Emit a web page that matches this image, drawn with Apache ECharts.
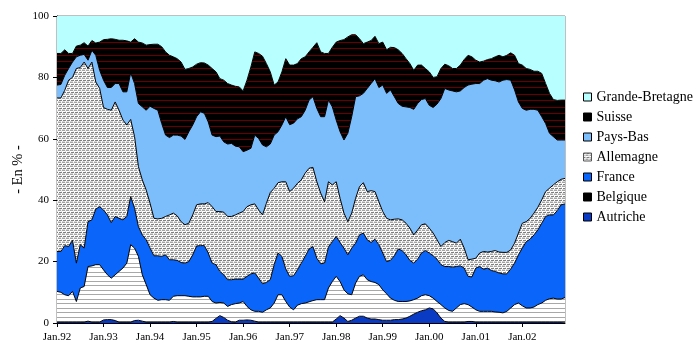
<!DOCTYPE html>
<html>
<head>
<meta charset="utf-8">
<script src="https://cdn.jsdelivr.net/npm/echarts@6/dist/echarts.min.js"></script>
<style>
  html, body { margin: 0; padding: 0; background: #fff; }
  #chart { width: 698px; height: 343px; }
</style>
</head>
<body>
<div id="chart"></div>
<script>
// Monthly shares (in %) by country, Jan.92 to Dec.02, one row per year
const years = ['92', '93', '94', '95', '96', '97', '98', '99', '00', '01', '02'];
const monthNames = ['Jan', 'Fév', 'Mar', 'Avr', 'Mai', 'Juin', 'Juil', 'Août', 'Sep', 'Oct', 'Nov', 'Déc'];
const tickLabels = ['Jan.92', 'Jan.93', 'Jan.94', 'Jan.95', 'Jan.96', 'Jan.97', 'Jan.98', 'Jan.99', 'Jan.00', 'Jan.01', 'Jan.02'];
const yTicks = [0, 20, 40, 60, 80, 100];

const autriche = [
  0.3,0.3,0.3,0.3,0.3,0.3,0.3,0.3,0.6,0.3,0.3,0.3,
  1.0,1.1,1.1,0.8,0.3,0.3,0.3,0.3,0.8,0.9,0.6,0.3,
  0.3,0.3,0.3,0.3,0.3,0.3,0.5,0.3,0.3,0.3,0.3,0.3,
  0.3,0.3,0.3,0.3,0.5,1.5,2.4,1.8,0.9,0.4,0.3,0.9,
  0.9,1.0,0.9,0.6,0.3,0.3,0.3,0.3,0.3,0.3,0.3,0.3,
  0.3,0.3,0.3,0.3,0.3,0.3,0.3,0.3,0.3,0.3,0.3,0.3,
  1.3,2.4,1.6,0.5,0.9,1.6,2.2,2.2,1.6,1.3,1.3,1.1,
  0.9,0.9,0.9,1.1,1.1,1.3,1.6,2.2,2.9,3.5,4.0,4.3,
  4.9,4.6,3.3,1.6,0.5,0.3,0.3,0.3,0.3,0.3,0.5,0.5,
  0.3,0.3,0.3,0.3,0.3,0.3,0.3,0.3,0.3,0.3,0.3,0.3,
  0.3,0.3,0.3,0.3,0.3,0.3,0.3,0.3,0.3,0.3,0.3,0.3
];
const belgique = [
  10.0,9.7,8.9,8.6,10.0,6.7,11.1,11.6,17.8,18.3,18.7,18.7,
  16.3,14.6,13.5,14.9,16.5,17.6,19.2,25.2,23.6,20.8,15.1,12.2,
  8.9,7.8,7.1,7.3,7.3,7.1,8.2,8.6,8.6,8.6,8.4,8.2,
  8.2,8.2,8.4,8.4,6.5,5.0,4.3,4.7,4.5,5.6,6.0,5.6,
  6.1,4.4,3.4,3.2,3.5,3.2,4.0,4.6,6.2,8.9,8.9,6.7,
  4.9,4.0,5.5,6.0,6.2,6.6,7.0,7.3,7.3,7.3,11.1,13.2,
  13.9,11.1,9.2,9.0,8.3,11.4,13.0,13.5,12.5,12.2,11.9,11.4,
  9.9,8.6,7.2,6.3,5.9,5.7,5.4,5.0,4.7,4.6,4.9,4.9,
  4.0,3.5,3.7,4.4,4.4,3.8,3.5,4.6,5.7,6.0,5.5,4.7,
  4.0,3.5,3.5,3.5,3.5,3.3,3.2,3.0,3.5,4.6,5.7,6.2,
  5.3,4.6,4.6,4.9,5.7,6.2,7.1,7.6,7.8,7.5,7.5,8.0
];
const france = [
  13.0,13.3,16.0,16.0,16.6,12.5,14.1,12.5,14.6,15.0,18.1,18.9,
  19.5,19.5,18.1,19.0,17.3,15.7,15.2,15.7,13.0,9.7,13.0,14.6,
  15.2,13.8,14.5,14.1,14.6,13.2,11.9,11.5,10.8,10.6,11.3,13.7,
  16.6,16.7,16.5,14.1,12.5,12.5,10.1,9.2,8.7,8.1,8.0,7.8,
  7.3,9.8,11.7,12.5,10.8,9.3,8.9,9.2,12.5,13.6,12.5,10.6,
  10.0,11.1,11.5,13.2,15.2,17.2,17.6,13.5,11.7,11.9,13.3,13.0,
  13.0,12.7,13.6,12.7,15.2,13.0,13.5,13.6,13.0,12.7,14.1,13.0,
  12.0,10.5,12.3,14.5,17.1,16.6,15.2,13.2,11.9,12.7,13.9,14.4,
  13.9,13.8,13.8,13.0,13.5,14.3,14.4,13.5,12.6,11.6,9.2,9.8,
  13.6,14.6,13.7,14.1,13.3,13.2,12.8,12.7,12.2,12.7,13.5,15.7,
  18.8,21.6,22.4,23.5,24.3,26.0,27.3,27.3,27.1,28.8,30.7,30.5
];
const allemagne = [
  50.0,50.0,50.6,54.2,53.1,63.4,57.7,60.6,49.9,51.4,41.4,38.5,
  33.4,34.4,36.6,37.3,35.2,32.5,29.8,25.1,23.3,19.5,17.9,16.2,
  14.6,12.2,12.0,12.4,12.5,14.6,15.2,14.5,13.3,12.5,12.5,13.0,
  13.4,13.6,13.6,16.4,18.4,17.3,19.5,20.4,20.6,20.6,20.9,21.5,
  22.0,22.7,22.5,22.5,22.2,22.4,25.8,28.4,24.9,22.9,24.3,28.4,
  27.6,28.5,28.2,27.1,27.1,26.3,25.8,24.9,23.0,20.0,21.3,18.5,
  17.8,14.4,11.4,10.8,11.4,14.6,15.7,16.4,15.7,16.9,15.5,14.0,
  13.5,14.1,13.2,11.9,9.8,10.0,10.3,10.5,9.2,9.5,9.2,8.7,
  8.1,7.4,6.3,5.9,7.8,8.5,8.3,7.6,8.7,6.5,5.4,5.8,
  3.2,4.4,5.8,5.2,6.2,6.8,6.8,7.0,7.0,6.2,6.5,7.1,
  8.1,6.5,6.8,7.1,7.4,7.6,8.1,8.7,9.8,9.4,8.3,8.3
];
const paysBas = [
  4.2,4.4,4.9,3.8,5.0,3.8,4.0,2.5,2.7,3.8,8.7,5.9,
  8.9,7.1,7.4,6.0,8.7,9.2,10.8,15.2,17.3,20.6,23.8,26.0,
  31.6,35.8,35.4,30.9,26.5,25.2,25.4,26.3,27.9,27.8,29.8,29.3,
  28.7,30.0,29.5,26.3,23.3,24.4,24.6,22.9,23.6,23.8,22.4,21.6,
  19.5,18.4,18.4,22.4,23.3,22.8,18.4,15.8,17.3,16.6,18.5,21.2,
  21.8,21.2,21.0,20.6,20.5,22.2,23.0,23.9,24.9,27.7,26.6,25.4,
  20.1,21.7,23.8,28.8,31.4,33.1,29.6,29.1,33.6,34.9,36.8,37.2,
  41.2,40.7,42.3,39.9,37.6,37.0,37.9,39.3,40.9,41.2,40.8,40.8,
  40.0,40.9,44.2,48.2,50.2,49.0,49.1,49.3,48.3,52.3,56.9,57.0,
  56.9,55.2,55.8,56.5,55.8,55.3,55.4,56.1,56.3,55.3,49.9,42.7,
  37.4,36.3,35.5,33.8,31.6,27.1,22.2,17.9,15.7,13.6,12.8,12.5
];
const suisse = [
  10.3,10.1,8.3,4.9,2.8,3.5,3.3,3.8,4.6,3.2,4.0,9.2,
  13.2,15.7,15.9,14.4,14.1,16.8,16.6,10.0,14.6,20.0,20.8,21.2,
  20.1,20.9,21.5,25.0,27.1,26.8,25.5,24.9,24.1,22.8,20.6,18.9,
  17.1,16.0,16.4,18.5,21.7,21.1,18.7,20.1,19.7,19.0,19.5,19.5,
  19.8,22.8,26.5,27.1,27.7,28.9,27.1,23.5,16.3,16.2,17.3,18.9,
  19.4,18.9,18.0,18.9,17.4,15.7,16.1,21.4,21.1,20.6,15.2,19.4,
  25.4,29.7,32.7,31.4,26.7,20.2,18.6,16.2,15.1,14.0,13.8,14.3,
  14.0,14.2,13.9,16.0,17.5,17.2,15.7,14.3,12.7,12.5,11.2,9.8,
  10.9,9.8,8.9,9.8,7.9,7.9,7.3,7.6,8.4,9.1,9.7,8.9,
  7.6,7.0,6.2,6.2,7.0,7.8,8.7,7.6,7.9,8.9,11.3,12.5,
  14.1,13.6,13.0,12.4,12.7,14.1,13.0,13.0,12.1,12.9,13.0,13.0
];
const grandeBretagne = [
  12.2,12.2,11.0,12.2,12.2,9.8,9.5,8.7,9.8,8.0,8.8,8.5,
  7.7,7.6,7.4,7.6,7.9,7.9,8.1,8.5,7.4,8.5,8.8,9.5,
  9.3,9.2,9.2,10.0,11.7,12.8,13.3,13.9,15.0,17.4,17.1,16.6,
  15.7,15.2,15.3,16.0,17.1,18.2,20.4,20.9,22.0,22.5,22.9,23.1,
  24.4,20.9,16.6,11.7,12.2,13.1,15.5,18.2,22.5,21.5,18.2,13.9,
  16.0,16.0,15.5,13.9,13.3,11.7,10.2,8.7,11.7,12.2,12.2,10.2,
  8.5,8.0,7.7,6.8,6.1,6.1,7.4,9.0,8.5,8.0,6.6,9.0,
  8.5,11.0,10.2,10.3,11.0,12.2,13.9,15.5,17.7,16.0,16.0,17.1,
  18.2,20.0,19.8,17.1,15.7,16.2,17.1,17.1,16.0,14.2,12.8,13.3,
  14.4,15.0,14.7,14.2,13.9,13.3,12.8,13.3,12.8,12.0,12.8,15.5,
  16.0,17.1,17.4,18.0,18.0,18.7,22.0,25.2,27.2,27.5,27.4,27.4
];

// Month labels: "Jan.92", "Fév.92", ...
const months = [];
years.forEach(y => monthNames.forEach(m => months.push(m + '.' + y)));

// Hatched fills drawn on small canvases
function stripes(w, h, bg, fg, rows) {
  const c = document.createElement('canvas');
  c.width = w; c.height = h;
  const g = c.getContext('2d');
  g.fillStyle = bg; g.fillRect(0, 0, w, h);
  g.fillStyle = fg;
  rows.forEach(r => g.fillRect(0, r, w, 1));
  return c;
}
function dotted() {
  const px = [
    ['#808080', '#808080', '#ffffff', '#808080'],
    ['#d6d6d6', '#ffffff', '#d6d6d6', '#d6d6d6'],
    ['#a4a4a4', '#f4f4f4', '#a4a4a4', '#a4a4a4'],
    ['#ffffff', '#e2e2e2', '#ffffff', '#ffffff']
  ];
  const c = document.createElement('canvas');
  c.width = 4; c.height = 4;
  const g = c.getContext('2d');
  px.forEach((row, y) => row.forEach((col, x) => { g.fillStyle = col; g.fillRect(x, y, 1, 1); }));
  return c;
}
const suissePattern = { image: stripes(8, 13, '#000000', '#680000', [3, 9]), repeat: 'repeat' };
const belgiquePattern = { image: stripes(8, 9, '#ffffff', '#a8a8a8', [2, 6]), repeat: 'repeat' };
const allemagnePattern = { image: dotted(), repeat: 'repeat' };

const serif = '"Liberation Serif", "Times New Roman", serif';

function layer(name, data, fill) {
  return {
    name: name,
    type: 'line',
    stack: 'total',
    data: data,
    showSymbol: false,
    symbol: 'none',
    lineStyle: { color: '#000', width: 1 },
    itemStyle: { color: '#000' },
    areaStyle: { color: fill, opacity: 1 },
    emphasis: { disabled: true },
    animation: false
  };
}

const chart = echarts.init(document.getElementById('chart'), null, { renderer: 'canvas' });
chart.setOption({
  backgroundColor: '#ffffff',
  animation: false,
  grid: {
    left: 57, right: 133, top: 16, bottom: 20,
    show: true, borderColor: '#808080', borderWidth: 1, backgroundColor: 'transparent'
  },
  legend: {
    orient: 'vertical',
    left: 578,
    top: 82,
    itemWidth: 8,
    itemHeight: 8,
    itemGap: 0,
    icon: 'rect',
    selectedMode: false,
    textStyle: { fontFamily: serif, fontSize: 14, color: '#000', lineHeight: 20 },
    data: [
      { name: 'Grande-Bretagne', itemStyle: { color: '#b8ffff', borderColor: '#000', borderWidth: 1 } },
      { name: 'Suisse', itemStyle: { color: '#000', borderColor: '#000', borderWidth: 1 } },
      { name: 'Pays-Bas', itemStyle: { color: '#7cbdfb', borderColor: '#000', borderWidth: 1 } },
      { name: 'Allemagne', itemStyle: { color: allemagnePattern, borderColor: '#555', borderWidth: 1 } },
      { name: 'France', itemStyle: { color: '#0a66fa', borderColor: '#000', borderWidth: 1 } },
      { name: 'Belgique', itemStyle: { color: '#000', borderColor: '#000', borderWidth: 1 } },
      { name: 'Autriche', itemStyle: { color: '#0a3bc4', borderColor: '#000', borderWidth: 1 } }
    ]
  },
  xAxis: {
    type: 'category',
    data: months,
    boundaryGap: false,
    axisLine: { show: true, lineStyle: { color: '#000', width: 1 } },
    axisTick: { show: true, interval: 11, length: 4, inside: false, lineStyle: { color: '#000' } },
    axisLabel: {
      interval: 11,
      margin: 9,
      fontFamily: serif,
      fontSize: 11,
      color: '#000',
      formatter: (v, i) => tickLabels[Math.floor(i / 12)] || v
    },
    splitLine: { show: false }
  },
  yAxis: {
    type: 'value',
    min: yTicks[0],
    max: yTicks[yTicks.length - 1],
    interval: 20,
    name: '- En % -',
    nameLocation: 'middle',
    nameGap: 31,
    nameMoveOverlap: false,
    nameTextStyle: { fontFamily: serif, fontSize: 14.5, color: '#000' },
    axisLine: { show: true, lineStyle: { color: '#000', width: 1 } },
    axisTick: { show: true, length: 4, lineStyle: { color: '#000' } },
    axisLabel: { margin: 8, fontFamily: serif, fontSize: 11, color: '#000' },
    splitLine: { show: false }
  },
  series: [
    layer('Autriche', autriche, '#0a3bc4'),
    layer('Belgique', belgique, belgiquePattern),
    layer('France', france, '#0a66fa'),
    layer('Allemagne', allemagne, allemagnePattern),
    layer('Pays-Bas', paysBas, '#7cbdfb'),
    layer('Suisse', suisse, suissePattern),
    Object.assign(layer('Grande-Bretagne', grandeBretagne, '#b8ffff'), { lineStyle: { width: 0 } })
  ]
});
</script>
</body>
</html>
